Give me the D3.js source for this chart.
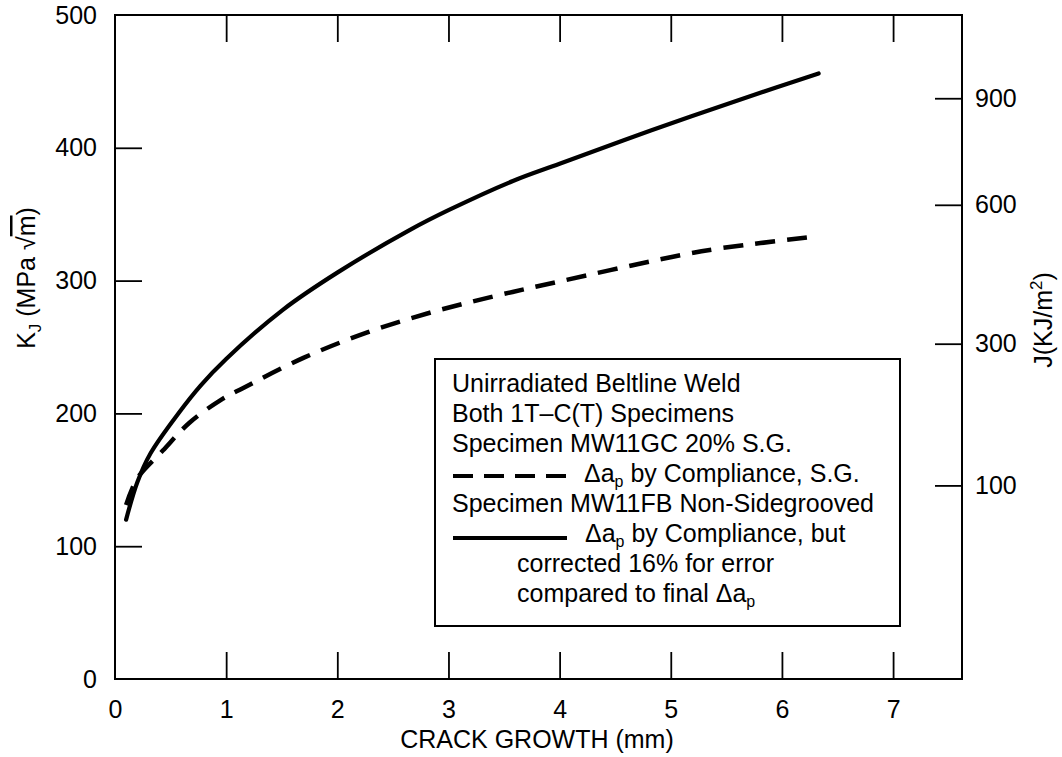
<!DOCTYPE html>
<html>
<head>
<meta charset="utf-8">
<script src="https://cdn.jsdelivr.net/npm/d3@7"></script>
<style>
  html, body { margin: 0; padding: 0; background: #fff; }
  svg { display: block; font-family: "Liberation Sans", Arial, Helvetica, sans-serif; }
</style>
</head>
<body>
<svg id="chart" width="1062" height="757"></svg>
<script>
// Crack growth (mm) vs K_J (MPa sqrt(m)) for the two 1T-C(T) specimens
const solidGrowth = [0.1, 0.2, 0.32, 0.57, 0.77, 1.0, 1.51, 2.0, 2.65, 3.0, 3.58, 4.0, 4.82, 5.72, 6.33];
const solidKJ     = [120, 148, 170, 200, 221, 241, 278, 306, 338, 353, 375, 388, 413, 439, 456];

const dashedGrowth = [0.1, 0.2, 0.43, 0.67, 0.95, 1.15, 1.7, 2.27, 2.84, 3.4, 3.98, 5.02, 5.42, 6.28];
const dashedKJ     = [131, 151, 172, 193, 210, 219, 242, 261, 276, 288, 299, 318, 324, 333];

const xTicks = [0, 1, 2, 3, 4, 5, 6, 7];
const yTicks = [0, 100, 200, 300, 400, 500];
const jTicks = [100, 300, 600, 900];
const modulus = 212.5; // E/(1-nu^2) in MPa/1000, so K^2 = modulus * J(kJ/m^2)

const svg = d3.select("#chart");
const plotLeft = 115, plotRight = 962, plotTop = 15, plotBottom = 679;

const x = d3.scaleLinear().domain([0, 7.62]).range([plotLeft, plotRight]);
const y = d3.scaleLinear().domain([0, 500]).range([plotBottom, plotTop]);
const jMax = 500 * 500 / modulus;
const yJ = d3.scalePow().exponent(0.5).domain([0, jMax]).range([plotBottom, plotTop]);

const tickLen = 27;
const fontSize = 25;

// Frame
svg.append("rect")
  .attr("x", plotLeft).attr("y", plotTop)
  .attr("width", plotRight - plotLeft).attr("height", plotBottom - plotTop)
  .attr("fill", "none").attr("stroke", "#000").attr("stroke-width", 2);

function styleAxis(g) {
  g.attr("font-size", fontSize).attr("font-family", "Liberation Sans, Arial, sans-serif");
  g.select(".domain").remove();
  g.selectAll(".tick line").attr("stroke", "#000").attr("stroke-width", 1.8);
  g.selectAll(".tick text").attr("fill", "#000");
}

// Bottom axis (ticks point inward)
svg.append("g").attr("transform", `translate(0,${plotBottom})`)
  .call(d3.axisBottom(x).tickValues(xTicks).tickFormat(d3.format("d")).tickSizeInner(-tickLen).tickSizeOuter(0).tickPadding(21))
  .call(styleAxis)
  .call(g => g.selectAll(".tick line").filter(d => d === 0).remove());

// Top axis ticks
svg.append("g").attr("transform", `translate(0,${plotTop})`)
  .call(d3.axisTop(x).tickValues(xTicks.filter(d => d > 0)).tickFormat("").tickSizeInner(-tickLen).tickSizeOuter(0))
  .call(styleAxis);

// Left axis
svg.append("g").attr("transform", `translate(${plotLeft},0)`)
  .call(d3.axisLeft(y).tickValues(yTicks).tickFormat(d3.format("d")).tickSizeInner(-tickLen).tickSizeOuter(0).tickPadding(18))
  .call(styleAxis)
  .call(g => g.selectAll(".tick line").filter(d => d === 0 || d === 500).remove());

// Right axis in J (kJ/m^2)
svg.append("g").attr("transform", `translate(${plotRight},0)`)
  .call(d3.axisRight(yJ).tickValues(jTicks).tickFormat(d3.format("d")).tickSizeInner(-tickLen).tickSizeOuter(0).tickPadding(13))
  .call(styleAxis);

// Axis titles
svg.append("text")
  .attr("x", 537).attr("y", 748)
  .attr("text-anchor", "middle").attr("font-size", fontSize)
  .text("CRACK GROWTH (mm)");

const kTitle = svg.append("text")
  .attr("transform", "translate(35,278) rotate(-90)")
  .attr("text-anchor", "middle").attr("font-size", fontSize);
kTitle.append("tspan").text("K");
kTitle.append("tspan").attr("font-size", 17).attr("dy", 6).text("J");
kTitle.append("tspan").attr("dy", -6).text(" (MPa ");
kTitle.append("tspan").text("\u221A");
kTitle.append("tspan").attr("text-decoration", "overline").text("m");
kTitle.append("tspan").text(")");

const jTitle = svg.append("text")
  .attr("transform", "translate(1052,320) rotate(-90)")
  .attr("text-anchor", "middle").attr("font-size", fontSize);
jTitle.append("tspan").text("J(KJ/m");
jTitle.append("tspan").attr("font-size", 17).attr("dy", -10).text("2");
jTitle.append("tspan").attr("dy", 10).text(")");

// Curves
const line = d3.line().x(d => x(d[0])).y(d => y(d[1])).curve(d3.curveCatmullRom.alpha(0.5));

svg.append("path")
  .datum(dashedGrowth.map((g, i) => [g, dashedKJ[i]]))
  .attr("d", line)
  .attr("fill", "none").attr("stroke", "#000").attr("stroke-width", 4.5)
  .attr("stroke-dasharray", "20,12");

svg.append("path")
  .datum(solidGrowth.map((g, i) => [g, solidKJ[i]]))
  .attr("d", line)
  .attr("fill", "none").attr("stroke", "#000").attr("stroke-width", 4.2)
  .attr("stroke-linecap", "round");

// Legend box
const lg = svg.append("g");
lg.append("rect")
  .attr("x", 435).attr("y", 359).attr("width", 465).attr("height", 267)
  .attr("fill", "#fff").attr("stroke", "#000").attr("stroke-width", 2);

const lx = 452, l0 = 392, lh = 30, lf = 25;
const plainLines = [
  [0, "Unirradiated Beltline Weld"],
  [1, "Both 1T\u2013C(T) Specimens"],
  [2, "Specimen MW11GC 20% S.G."],
  [4, "Specimen MW11FB Non-Sidegrooved"],
  [6, "corrected 16% for error"]
];
plainLines.forEach(([row, txt]) => {
  lg.append("text").attr("x", row === 6 ? 517 : lx).attr("y", l0 + row * lh)
    .attr("font-size", lf).text(txt);
});

function deltaText(xPos, row, before, after) {
  const t = lg.append("text").attr("x", xPos).attr("y", l0 + row * lh).attr("font-size", lf);
  if (before) t.append("tspan").text(before);
  t.append("tspan").text("\u0394a");
  t.append("tspan").attr("font-size", 16).attr("dy", 5).text("p");
  if (after) t.append("tspan").attr("dy", -5).text(after);
}
deltaText(584, 3, "", " by Compliance, S.G.");
deltaText(585, 5, "", " by Compliance, but");
deltaText(517, 7, "compared to final ", "");

lg.append("line")
  .attr("x1", 453).attr("x2", 567).attr("y1", l0 + 3 * lh - 6).attr("y2", l0 + 3 * lh - 6)
  .attr("stroke", "#000").attr("stroke-width", 4).attr("stroke-dasharray", "20,11");
lg.append("line")
  .attr("x1", 453).attr("x2", 567).attr("y1", l0 + 5 * lh - 4).attr("y2", l0 + 5 * lh - 4)
  .attr("stroke", "#000").attr("stroke-width", 4);
</script>
</body>
</html>
